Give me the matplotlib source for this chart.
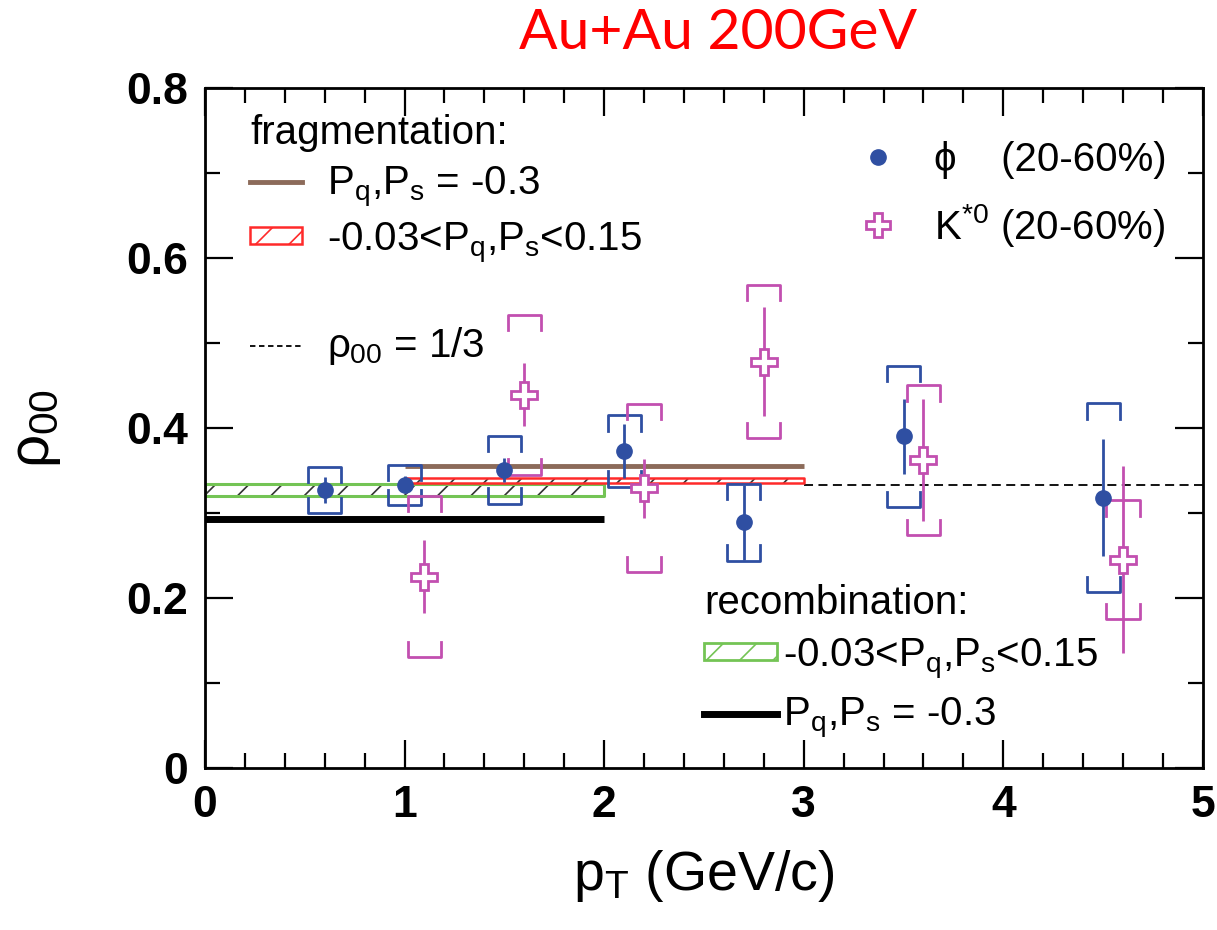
import matplotlib
matplotlib.use("Agg")
import matplotlib.pyplot as plt
from matplotlib.lines import Line2D
from matplotlib.patches import Patch
import numpy as np

plt.rcParams["font.family"] = ["Liberation Sans", "DejaVu Sans"]
plt.rcParams["mathtext.fontset"] = "custom"
plt.rcParams["mathtext.rm"] = "Liberation Sans"
plt.rcParams["mathtext.it"] = "Liberation Sans"
plt.rcParams["mathtext.bf"] = "Liberation Sans:bold"
plt.rcParams["hatch.linewidth"] = 1.2

# phi (20-60%)
phi_pt = [0.6, 1.0, 1.5, 2.1, 2.7, 3.5, 4.5]
phi_rho = [0.327, 0.333, 0.351, 0.373, 0.289, 0.390, 0.318]
phi_stat = [0.015, 0.010, 0.014, 0.032, 0.044, 0.044, 0.069]
phi_sys = [0.027, 0.024, 0.040, 0.042, 0.045, 0.083, 0.111]

# K*0 (20-60%)
kst_pt = [1.1, 1.6, 2.2, 2.8, 3.6, 4.6]
kst_rho = [0.225, 0.439, 0.329, 0.478, 0.362, 0.245]
kst_stat = [0.043, 0.037, 0.035, 0.064, 0.072, 0.110]
kst_sys = [0.095, 0.094, 0.099, 0.090, 0.088, 0.070]

# model curves: (x range, y value / y band)
frag_line_x = [1.0, 3.0]
frag_line_y = 0.355
frag_band_x = [1.0, 3.0]
frag_band_y = [0.335, 0.341]
reco_band_x = [0.0, 2.0]
reco_band_y = [0.320, 0.334]
reco_line_x = [0.0, 2.0]
reco_line_y = 0.293
third_x = [3.0, 5.0]
third_y = 1 / 3

BLUE = "#2f4fa2"
MAG = "#c24fb0"
BROWN = "#8c6b5a"
RED = "#ff2a2a"
GREEN = "#74c455"

BOX_W = 0.083
BOX_LEG = 0.018


def draw_sys(ax, xs, ys, errs, color):
    for x, y, e in zip(xs, ys, errs):
        top = y + e
        bot = y - e
        ax.plot([x - BOX_W, x - BOX_W, x + BOX_W, x + BOX_W],
                [top - BOX_LEG, top, top, top - BOX_LEG],
                color=color, lw=2, zorder=4)
        ax.plot([x - BOX_W, x - BOX_W, x + BOX_W, x + BOX_W],
                [bot + BOX_LEG, bot, bot, bot + BOX_LEG],
                color=color, lw=2, zorder=4)


fig = plt.figure(figsize=(12.17, 9.30), dpi=100)
ax = fig.add_axes([0.1684, 0.1742, 0.820, 0.7312])

# model bands / lines
ax.fill_between(reco_band_x, reco_band_y[0], reco_band_y[1], facecolor="white",
                edgecolor="#333333", hatch="/", lw=0, zorder=2)
ax.fill_between(reco_band_x, reco_band_y[0], reco_band_y[1], facecolor="none",
                edgecolor=GREEN, lw=2.2, zorder=2)
ax.plot(reco_line_x, [reco_line_y] * 2, color="black", lw=5, zorder=2,
        solid_capstyle="butt")
ax.plot(frag_line_x, [frag_line_y] * 2, color=BROWN, lw=3.5, zorder=2,
        solid_capstyle="butt")
ax.fill_between(frag_band_x, frag_band_y[0], frag_band_y[1], facecolor="white",
                edgecolor="#333333", hatch="/", lw=0, zorder=2)
ax.fill_between(frag_band_x, frag_band_y[0], frag_band_y[1], facecolor="none",
                edgecolor=RED, lw=1.8, zorder=2)
ax.plot(third_x, [third_y] * 2, color="black", lw=1.3, ls=(0, (5, 3)), zorder=1)

# data
draw_sys(ax, phi_pt, phi_rho, phi_sys, BLUE)
draw_sys(ax, kst_pt, kst_rho, kst_sys, MAG)
ax.errorbar(phi_pt, phi_rho, yerr=phi_stat, fmt="o", color=BLUE, ms=11,
            elinewidth=2, capsize=0, zorder=5)
ax.errorbar(kst_pt, kst_rho, yerr=kst_stat, fmt="P", color=MAG, mfc="white",
            mec=MAG, mew=2, ms=19, elinewidth=2, capsize=0, zorder=5)

ax.set_xlim(0, 5)
ax.set_ylim(0, 0.8)
ax.set_xticks([0, 1, 2, 3, 4, 5])
ax.set_xticks(np.arange(0, 5.01, 0.2), minor=True)
ax.set_yticks([0, 0.2, 0.4, 0.6, 0.8])
ax.set_yticklabels(["0", "0.2", "0.4", "0.6", "0.8"])
ax.set_yticks(np.arange(0, 0.81, 0.1), minor=True)
ax.tick_params(which="both", direction="in", top=True, right=True, width=1.6,
               labelsize=32, pad=12)
ax.tick_params(which="major", length=20)
ax.tick_params(which="minor", length=11)
for lab in ax.get_xticklabels() + ax.get_yticklabels():
    lab.set_fontweight("bold")
for sp in ax.spines.values():
    sp.set_linewidth(2)

ax.set_xlabel(r"p$_\mathregular{T}$ (GeV/c)", fontsize=40)
ax.set_ylabel(r"$\rho_{00}$", fontsize=42)
ax.xaxis.set_label_coords(0.5, -0.118)
ax.yaxis.set_label_coords(-0.142, 0.5)

fs = 29
# fragmentation legend
frag_handles = [
    Line2D([], [], color=BROWN, lw=3.5),
    Patch(facecolor="white", edgecolor=RED, hatch="/", lw=1.8),
    Line2D([], [], color="none"),
    Line2D([], [], color="black", lw=1.3, ls=(0, (3, 2))),
]
frag_labels = [r"P$_\mathregular{q}$,P$_\mathregular{s}$ = -0.3",
               r"-0.03<P$_\mathregular{q}$,P$_\mathregular{s}$<0.15",
               " ",
               r"$\rho_{00}$ = 1/3"]
leg1 = ax.legend(frag_handles, frag_labels, loc="upper left",
                 bbox_to_anchor=(0.029, 0.985), frameon=False, fontsize=fs,
                 title="fragmentation:", title_fontsize=fs, alignment="left",
                 handlelength=1.3, handleheight=0.28, handletextpad=0.6,
                 labelspacing=0.28, borderaxespad=0)
ax.add_artist(leg1)

# particles legend
part_handles = [
    Line2D([], [], ls="none", marker="o", color=BLUE, ms=11),
    Line2D([], [], ls="none", marker="P", mfc="white", mec=MAG, mew=2, ms=17),
]
part_labels = ["\u03d5    (20-60%)", r"K$^{*0}$ (20-60%)"]
leg2 = ax.legend(part_handles, part_labels, loc="upper right",
                 bbox_to_anchor=(0.98, 0.945), frameon=False, fontsize=fs,
                 handlelength=1.2, handletextpad=0.8, labelspacing=0.55,
                 borderaxespad=0)
ax.add_artist(leg2)

# recombination legend
reco_handles = [
    Patch(facecolor="white", edgecolor=GREEN, hatch="/", lw=2),
    Line2D([], [], color="black", lw=5),
]
reco_labels = [r"-0.03<P$_\mathregular{q}$,P$_\mathregular{s}$<0.15",
               r"P$_\mathregular{q}$,P$_\mathregular{s}$ = -0.3"]
leg3 = ax.legend(reco_handles, reco_labels, loc="upper left",
                 bbox_to_anchor=(0.484, 0.295), frameon=False, fontsize=fs,
                 title="recombination:", title_fontsize=fs, alignment="left",
                 handlelength=1.8, handleheight=0.28, handletextpad=0.15,
                 labelspacing=0.35, borderaxespad=0)

fig.text(0.59, 0.964, "Au+Au 200GeV", color="red", fontsize=41,
         family="Lato", ha="center", va="center")

fig.savefig("out.png", dpi=100)
